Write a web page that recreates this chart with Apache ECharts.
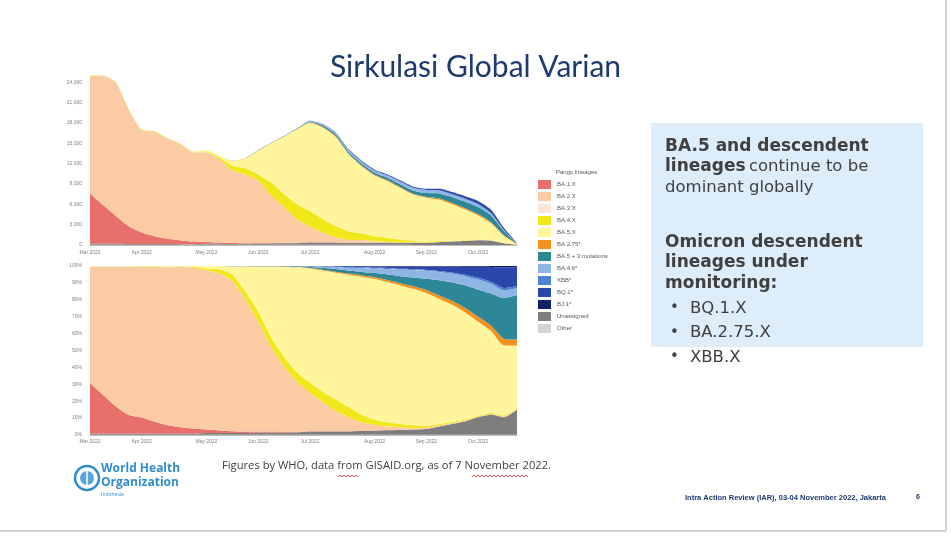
<!DOCTYPE html>
<html>
<head>
<meta charset="utf-8">
<script src="https://cdn.jsdelivr.net/npm/echarts@6/dist/echarts.min.js"></script>
<style>
  html, body { margin: 0; padding: 0; background: #fff; }
  #main { width: 951px; height: 538px; }
</style>
</head>
<body>
<div id="main"></div>
<script type="text/javascript">
// weekly points, Mar - Oct 2022
var weeks = ['2022-03-05','2022-03-12','2022-03-19','2022-03-26',
  '2022-04-02','2022-04-09','2022-04-16','2022-04-23','2022-04-30',
  '2022-05-07','2022-05-14','2022-05-21','2022-05-28',
  '2022-06-04','2022-06-11','2022-06-18','2022-06-25',
  '2022-07-02','2022-07-09','2022-07-16','2022-07-23','2022-07-30',
  '2022-08-06','2022-08-13','2022-08-20','2022-08-27',
  '2022-09-03','2022-09-10','2022-09-17','2022-09-24',
  '2022-10-01','2022-10-08','2022-10-15','2022-10-22'];

var lineages = ['BA.1.X','BA.2.X','BA.3.X','BA.4.X','BA.5.X','BA.2.75*','BA.5 + 3 mutations',
  'BA.4.6*','XBB*','BQ.1*','BJ.1*','Unassigned','Other'];

// top chart: sequences per lineage
var top_other = [50,50,50,40,30,30,30,30,30,30,30,25,25,30,30,30,35,35,35,35,30,25,22,20,20,18,16,16,15,14,13,10,5,1];
var top_unas = [150,150,140,120,110,100,100,90,80,140,130,125,125,180,200,210,230,330,320,300,250,285,260,270,270,260,270,400,490,560,670,610,250,45];
var top_ba1 = [7400,5700,4100,2600,1700,1150,780,560,400,280,200,130,100,85,75,65,55,40,35,30,25,15,12,10,10,9,8,8,7,7,6,5,3,0];
var top_ba2 = [17350,19050,19650,17170,15080,15420,14760,14220,13140,13200,12230,10720,10150,9205,6995,5295,3480,2295,1410,785,445,400,250,150,100,70,55,50,40,35,30,25,12,1];
var top_ba3 = [10,10,10,10,10,10,10,10,10,10,10,10,10,5,5,5,5,5,5,5,5,0,0,0,0,0,0,0,0,0,0,0,0,0];
var top_ba4 = [20,20,30,40,40,50,60,50,70,140,330,700,900,900,1900,1900,2200,2300,2000,1650,1250,1000,750,600,400,250,150,100,80,70,50,40,20,2];
var top_ba5 = [20,20,20,20,30,40,60,40,70,200,270,660,1450,3535,5795,8495,11045,13021,13514,13131,11360,9880,8949,8359,7605,6827,6468,6104,5372,4532,3588,2507,1035,110];
var top_ba275 = [0,0,0,0,0,0,0,0,0,0,0,10,15,20,25,30,35,55,90,100,100,110,110,125,125,130,150,166,180,195,195,170,100,10];
var top_ba5m = [0,0,0,0,0,0,0,0,0,0,0,10,15,25,35,45,75,110,195,265,255,250,280,345,400,450,550,750,860,965,1040,990,600,80];
var top_ba46 = [0,0,0,0,0,0,0,0,0,0,0,10,10,15,20,25,40,73,125,183,240,285,300,333,370,380,400,415,405,390,390,300,112,12];
var top_xbb = [0,0,0,0,0,0,0,0,0,0,0,0,0,0,0,0,0,18,35,50,56,50,45,52,48,43,42,50,55,58,65,62,38,4];
var top_bq1 = [0,0,0,0,0,0,0,0,0,0,0,0,0,0,0,0,0,18,18,33,56,75,100,115,133,146,166,216,273,345,420,450,305,33];
var top_bj1 = [0,0,0,0,0,0,0,0,0,0,0,0,0,0,0,0,0,0,18,33,28,25,22,21,19,17,25,25,23,29,33,31,20,2];

// bottom chart: share of sequences (%)
var bot_other = [0.2,0.2,0.2,0.2,0.2,0.2,0.2,0.2,0.2,0.2,0.2,0.2,0.2,0.2,0.2,0.2,0.2,0.2,0.2,0.2,0.2,0.2,0.2,0.2,0.2,0.2,0.2,0.2,0.2,0.2,0.2,0.2,0.2,0.2];
var bot_unas = [0.6,0.6,0.6,0.6,0.6,0.6,0.6,0.6,0.6,1.0,1.0,1.0,1.0,1.3,1.3,1.3,1.3,1.8,1.8,1.8,1.8,2.3,2.3,2.6,2.8,3.0,3.3,4.8,6.3,7.8,10.3,11.8,10.3,14.8];
var bot_ba1 = [30,23,16,11,9.5,7,5,3.8,3,2,1.5,1,0.8,0.6,0.5,0.4,0.3,0.2,0.2,0.2,0.2,0.1,0.1,0.1,0.1,0.1,0.1,0.1,0.1,0.1,0.1,0.1,0.1,0.1];
var bot_ba2 = [68.9,75.9,82.9,87.8,89.2,91.6,93.3,94.8,95.1,94.2,92.7,88.7,78.4,64.9,50,38.6,29.7,22.8,17.3,11.8,8.3,4.9,3.4,2.1,1.4,0.9,0.7,0.6,0.5,0.5,0.4,0.4,0.4,0.3];
var bot_ba3 = [0.1,0.1,0.1,0.1,0.1,0.1,0.1,0.1,0.1,0.1,0.1,0.1,0.1,0,0,0,0,0,0,0,0,0,0,0,0,0,0,0,0,0,0,0,0,0];
var bot_ba4 = [0.1,0.1,0.1,0.2,0.2,0.3,0.4,0.3,0.5,1.0,2.5,4,4.5,6,6,5.5,5.5,6,6,7,6,4.5,3,2.5,2,1.6,1.2,0.8,0.7,0.6,0.5,0.5,0.5,0.4];
var bot_ba5 = [0.1,0.1,0.1,0.1,0.2,0.2,0.4,0.2,0.5,1.5,2.0,4.8,14.7,26.5,41.5,53.4,62.2,67.5,71.8,75,78.3,81.6,83.3,83,82,80.7,78.5,74,69.2,63.3,55.5,48.5,41.5,37.2];
var bot_ba275 = [0,0,0,0,0,0,0,0,0,0,0,0.1,0.1,0.2,0.2,0.2,0.2,0.3,0.5,0.6,0.7,0.9,1.0,1.2,1.3,1.5,1.8,2,2.3,2.7,3,3.3,4,3.5];
var bot_ba5m = [0,0,0,0,0,0,0,0,0,0,0,0.1,0.1,0.2,0.2,0.3,0.4,0.6,1.1,1.6,1.8,2.0,2.5,3.3,4.2,5.2,6.6,9,11,13.4,16,19,24,26.3];
var bot_ba46 = [0,0,0,0,0,0,0,0,0,0,0,0,0.1,0.1,0.1,0.1,0.2,0.4,0.7,1.1,1.7,2.3,2.7,3.2,3.9,4.4,4.8,5,5.2,5.4,6,5.7,4.5,4];
var bot_xbb = [0,0,0,0,0,0,0,0,0,0,0,0,0,0,0,0,0,0.1,0.2,0.3,0.4,0.4,0.4,0.5,0.5,0.5,0.5,0.6,0.7,0.8,1.0,1.2,1.5,1.4];
var bot_bq1 = [0,0,0,0,0,0,0,0,0,0,0,0,0,0,0,0,0,0.1,0.1,0.2,0.4,0.6,0.9,1.1,1.4,1.7,2.0,2.6,3.5,4.8,6.5,8.7,12.2,11.1];
var bot_bj1 = [0,0,0,0,0,0,0,0,0,0,0,0,0,0,0,0,0,0,0.1,0.2,0.2,0.2,0.2,0.2,0.2,0.2,0.3,0.3,0.3,0.4,0.5,0.6,0.8,0.7];

var colors = {
  'BA.1.X':'#E8706B', 'BA.2.X':'#FBCBA3', 'BA.3.X':'#FCE4D6', 'BA.4.X':'#F0E81A',
  'BA.5.X':'#FFF59C', 'BA.2.75*':'#F5921E', 'BA.5 + 3 mutations':'#2E8796',
  'BA.4.6*':'#8EB5E3', 'XBB*':'#4F82D2', 'BQ.1*':'#2A48AC', 'BJ.1*':'#0D2163',
  'Unassigned':'#7E7E7E', 'Other':'#D4D4D4'
};

// stacking order, bottom first
var topSets = [['Other',top_other],['Unassigned',top_unas],['BA.1.X',top_ba1],['BA.2.X',top_ba2],
  ['BA.3.X',top_ba3],['BA.4.X',top_ba4],['BA.5.X',top_ba5],['BA.2.75*',top_ba275],
  ['BA.5 + 3 mutations',top_ba5m],['BA.4.6*',top_ba46],['XBB*',top_xbb],['BQ.1*',top_bq1],['BJ.1*',top_bj1]];
var botSets = [['Other',bot_other],['Unassigned',bot_unas],['BA.1.X',bot_ba1],['BA.2.X',bot_ba2],
  ['BA.3.X',bot_ba3],['BA.4.X',bot_ba4],['BA.5.X',bot_ba5],['BA.2.75*',bot_ba275],
  ['BA.5 + 3 mutations',bot_ba5m],['BA.4.6*',bot_ba46],['XBB*',bot_xbb],['BQ.1*',bot_bq1],['BJ.1*',bot_bj1]];

var series = [];
function addSeries(sets, idx, stack) {
  for (var i = 0; i < sets.length; i++) {
    var nm = sets[i][0];
    series.push({
      name: nm, type: 'line', stack: stack,
      xAxisIndex: idx, yAxisIndex: idx,
      data: sets[i][1],
      color: colors[nm],
      smooth: 0.2, symbol: 'none', showSymbol: false,
      lineStyle: { width: 0 },
      areaStyle: { color: colors[nm], opacity: 1 },
      emphasis: { disabled: true },
      silent: true
    });
  }
}
addSeries(topSets, 0, 'cnt');
addSeries(botSets, 1, 'pct');

var mon = ['Jan','Feb','Mar','Apr','May','Jun','Jul','Aug','Sep','Oct','Nov','Dec'];
function xAx(idx, margin) {
  return {
    type: 'category', gridIndex: idx, data: weeks, boundaryGap: false,
    axisLine: { lineStyle: { color: '#bdbdbd', width: 1 } },
    axisTick: { show: false },
    axisLabel: {
      fontSize: 5, color: '#808080', margin: margin, fontFamily: 'Liberation Sans',
      interval: function (i, v) { return +v.slice(8) <= 7; },
      formatter: function (v) { return mon[+v.slice(5, 7) - 1] + ' 2022'; }
    }
  };
}

// spell-check squiggle under a word
function squiggle(x1, x2, y) {
  var pts = [], up = false;
  for (var x = x1; x <= x2; x += 2) { pts.push([x, up ? y - 2 : y]); up = !up; }
  return { type: 'polyline', shape: { points: pts }, style: { stroke: '#E02020', lineWidth: 0.8, fill: null } };
}

var chart = echarts.init(document.getElementById('main'));
chart.setOption({
  backgroundColor: '#ffffff',
  animation: false,
  title: {
    text: 'Sirkulasi Global Varian', left: 'center', top: 47,
    textStyle: { fontFamily: 'Lato', fontWeight: 'normal', fontSize: 30, color: '#1F3A6E' }
  },
  legend: {
    data: lineages, orient: 'vertical', left: 538, top: 180,
    icon: 'rect', itemWidth: 13, itemHeight: 9, itemGap: 3, padding: 0,
    selectedMode: false,
    textStyle: { fontSize: 6, color: '#595959', fontFamily: 'Liberation Sans', padding: [0, 0, 0, 1] }
  },
  grid: [
    { left: 90, right: 434, top: 72, height: 173 },
    { left: 90, right: 434, top: 266, height: 169 }
  ],
  xAxis: [xAx(0, 5), xAx(1, 4)],
  yAxis: [
    { type: 'value', gridIndex: 0, min: 0, max: 25500, interval: 3000,
      splitLine: { show: false }, axisLine: { show: false }, axisTick: { show: false },
      axisLabel: { fontSize: 5, color: '#808080', margin: 8, showMaxLabel: false, fontFamily: 'Liberation Sans',
        formatter: function (v) { return v.toLocaleString('en-US'); } } },
    { type: 'value', gridIndex: 1, min: 0, max: 100, interval: 10,
      splitLine: { show: false }, axisLine: { show: false }, axisTick: { show: false },
      axisLabel: { fontSize: 5, color: '#808080', margin: 8, fontFamily: 'Liberation Sans', formatter: '{value}%' } }
  ],
  series: series,
  graphic: [
    // slide edge
    { type: 'line', shape: { x1: 946, y1: 0, x2: 946, y2: 531 }, style: { stroke: '#c4c4c4', lineWidth: 1.5 } },
    { type: 'line', shape: { x1: 0, y1: 531, x2: 946, y2: 531 }, style: { stroke: '#c4c4c4', lineWidth: 1.5 } },
    // legend heading
    { type: 'text', left: 556, top: 169, style: { text: 'Pango lineages', fontSize: 6, fill: '#595959', fontFamily: 'Liberation Sans' } },
    // text box
    { type: 'rect', shape: { x: 651, y: 123, width: 272, height: 224 }, style: { fill: '#DDEEFA' } },
    { type: 'text', left: 665, top: 138, style: {
        text: '{b|BA.5 and descendent}\n{b|lineages} {r|continue to be}\n{r|dominant globally}',
        rich: {
          b: { fontFamily: 'DejaVu Sans', fontWeight: 'bold', fontSize: 17, fill: '#404040', lineHeight: 20.5 },
          r: { fontFamily: 'DejaVu Sans', fontSize: 16.5, fill: '#404040', lineHeight: 20.5 }
        } } },
    { type: 'text', left: 665, top: 232, style: {
        text: 'Omicron descendent\nlineages under\nmonitoring:',
        fontFamily: 'DejaVu Sans', fontWeight: 'bold', fontSize: 17, fill: '#404040', lineHeight: 20.5 } },
    { type: 'text', left: 670, top: 296, style: { text: '•\n•\n•', fontSize: 15, lineHeight: 24.5, fill: '#404040', fontFamily: 'DejaVu Sans' } },
    { type: 'text', left: 690, top: 296, style: { text: 'BQ.1.X\nBA.2.75.X\nXBB.X', fontSize: 16.5, lineHeight: 24.5, fill: '#404040', fontFamily: 'DejaVu Sans' } },
    // WHO logo
    { type: 'circle', shape: { cx: 87, cy: 478, r: 12 }, style: { fill: '#ffffff', stroke: '#2F8CD0', lineWidth: 2.5 } },
    { type: 'circle', shape: { cx: 87, cy: 478, r: 7 }, style: { fill: '#5AA5DC' } },
    { type: 'line', shape: { x1: 87, y1: 468, x2: 87, y2: 489 }, style: { stroke: '#ffffff', lineWidth: 1.5 } },
    { type: 'text', left: 101, top: 462, style: { text: 'World Health\nOrganization', fontSize: 12, lineHeight: 14, fontWeight: 'bold', fill: '#2F8CD0', fontFamily: 'Open Sans' } },
    { type: 'text', left: 101, top: 492, style: { text: 'Indonesia', fontSize: 5, fill: '#2F8CD0', fontFamily: 'Open Sans' } },
    // source note
    { type: 'text', left: 222, top: 460, style: { text: 'Figures by WHO, data from GISAID.org, as of 7 November 2022.', fontSize: 11.2, fill: '#404040', fontFamily: 'Open Sans' } },
    squiggle(338, 358, 477),
    squiggle(472, 528, 477),
    // footer
    { type: 'text', left: 685, top: 494, style: { text: 'Intra Action Review (IAR), 03-04 November 2022, Jakarta', fontSize: 7.5, fontWeight: 'bold', fill: '#1F3A6E', fontFamily: 'Liberation Sans' } },
    { type: 'text', left: 916, top: 494, style: { text: '6', fontSize: 7, fontWeight: 'bold', fill: '#1F3A6E', fontFamily: 'Liberation Sans' } }
  ]
});
</script>
</body>
</html>
